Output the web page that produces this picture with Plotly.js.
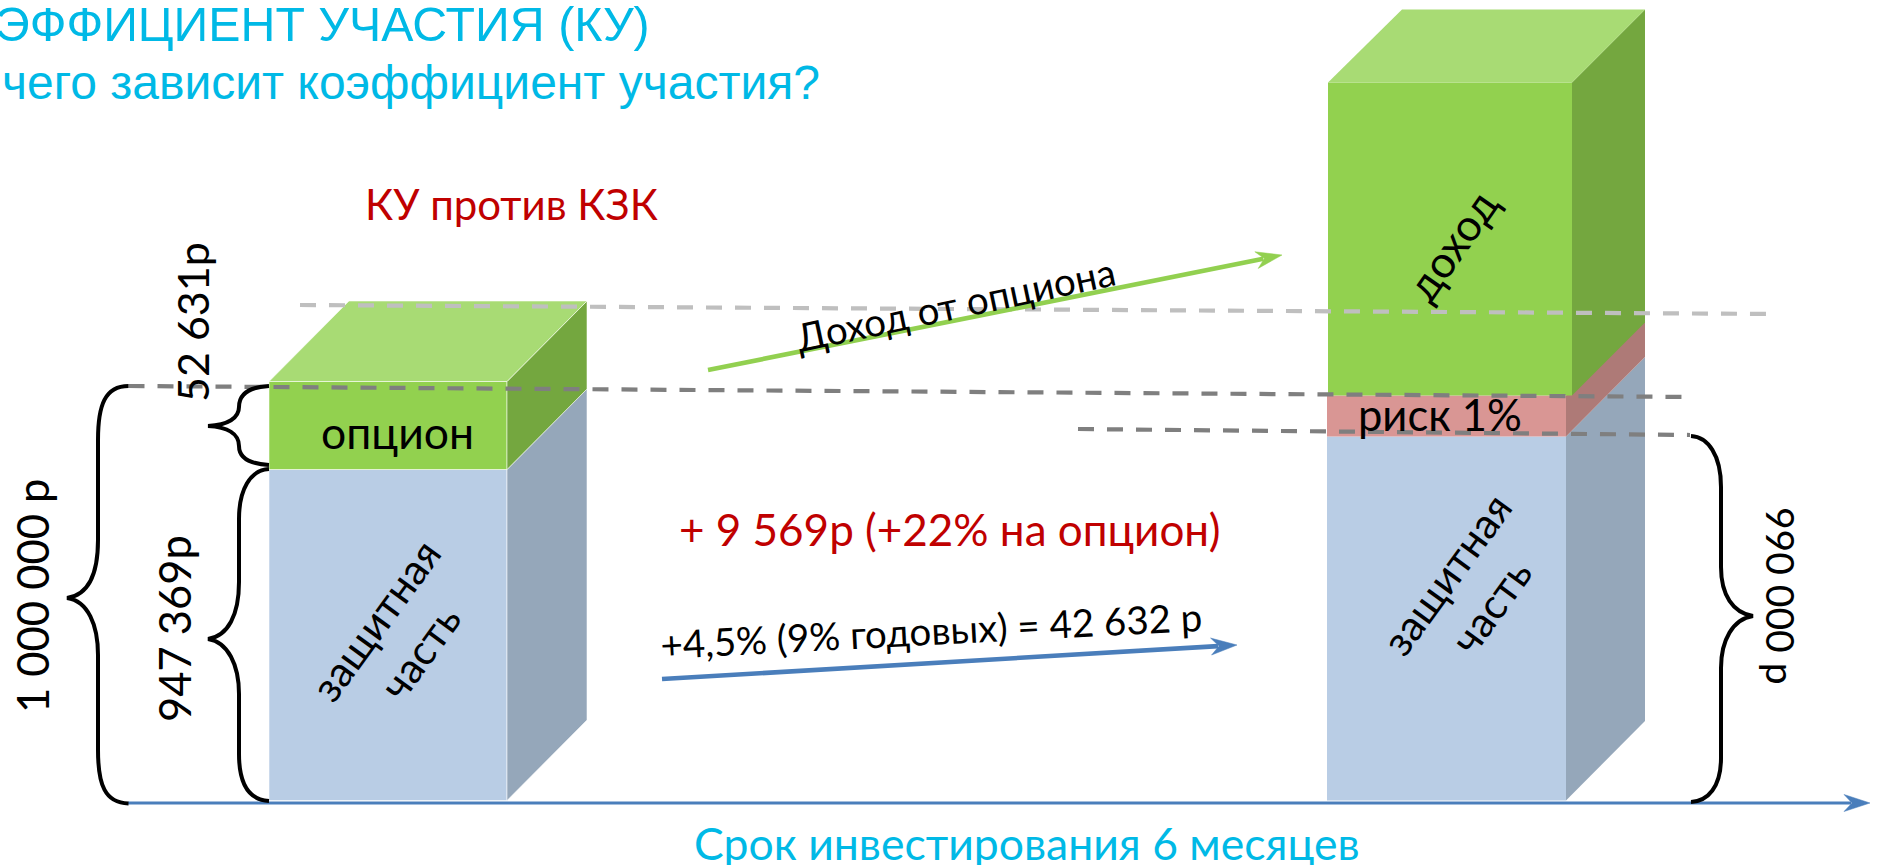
<!DOCTYPE html>
<html><head><meta charset="utf-8">
<script src="https://cdn.plot.ly/plotly-3.0.1.min.js"></script>
<style>html,body{margin:0;padding:0;background:#fff;overflow:hidden}</style></head>
<body><div id="chart" style="width:1879px;height:865px"></div>
<script>
// ---- values ----
const boxNames = ["КЗК", "КУ"];
const protectionHeights = [331, 364];
const optionHeights = [88, 313];
const riskHeights = [0, 41];
const titleLines = ["ЭФФИЦИЕНТ УЧАСТИЯ (КУ)", "чего зависит коэффициент участия?"];
const amountLabels = ["1 000 000 р", "947 369р", "52 631р", "990 000 р"];
const segmentLabels = ["опцион", "защитная<br>часть", "доход", "риск 1%"];
const flowLabels = ["Доход от опциона", "+4,5% (9% годовых) = 42 632 р", "+ 9 569р (+22% на опцион)"];
const headingLabel = "КУ против КЗК";
const axisLabel = "Срок инвестирования 6 месяцев";

// ---- layout & styling ----
const W = 1879, H = 865, BASE = 800.5;
const BODY = 'Lato, "Open Sans", sans-serif', HEAD = '"Liberation Sans", Arial, sans-serif';
const CY = '#00b9e6', RED = '#c00000', BLUEL = '#4a7ebb';
const frames = [
  {blue:[269,507,587], top:[269,507,587,349], dy:80.5, edge:'rgba(255,255,255,.55)'},
  {blue:[1327,1566,1645], top:[1328,1572,1645,1402], dy:79.5, edge:'rgba(255,255,255,0)'}
];
const traces = [];
function poly(xs, ys, color, edge){
  traces.push({type:'scatter', mode:'lines', x:[...xs,xs[0]], y:[...ys,ys[0]], fill:'toself',
    fillcolor:color, line:{color:edge, width:1}, hoverinfo:'skip', showlegend:false});
}
function block(l, r, back, yb, yt, dy, front, side, edge){
  poly([l,r,r,l],[yb,yb,yt,yt],front,edge);
  poly([r,back,back,r],[yb,yb-dy,yt-dy,yt],side,edge);
}
boxNames.forEach((n,i)=>{
  const f = frames[i];
  let y = BASE - protectionHeights[i];
  block(f.blue[0],f.blue[1],f.blue[2],BASE,y,f.dy,'#b9cde5','#95a7ba',f.edge);
  if(riskHeights[i]>0){
    const y2 = y - riskHeights[i];
    block(f.blue[0],f.blue[1],f.blue[2],y,y2,f.dy,'#d99694','#ae7a77',f.edge);
    y = y2;
  }
  const yt = y - optionHeights[i];
  const d = f.top[2]-f.top[1]+(i?0:0.5);
  block(f.top[0],f.top[1],f.top[2],y,yt,d,'#92d14f','#74a73f',f.edge);
  poly([f.top[0],f.top[1],f.top[2],f.top[3]],[yt,yt,yt-d,yt-d],'#a8db74',f.edge);
});

const brace = d => ({type:'path', path:d, xref:'x', yref:'y', layer:'above', line:{color:'#000',width:4}});
const dash = (x0,y0,x1,y1,c) => ({type:'line', xref:'x', yref:'y', x0,y0,x1,y1, layer:'above', line:{color:c,width:4.2,dash:'16px,13px'}});
function arrowShapes(x0,y0,x1,y1,color,w){
  const L = Math.hypot(x1-x0,y1-y0), ux=(x1-x0)/L, uy=(y1-y0)/L, nx=-uy, ny=ux;
  const pt = (a,b)=>`${x1-a*ux+b*nx},${y1-a*uy+b*ny}`;
  return [
    {type:'line', xref:'x', yref:'y', layer:'above', x0, y0, x1:x1-19*ux, y1:y1-19*uy, line:{color,width:w}},
    {type:'path', xref:'x', yref:'y', layer:'above', fillcolor:color, line:{color,width:0.5},
     path:`M${pt(0,0)} L${pt(26,8.5)} L${pt(18,0)} L${pt(26,-8.5)} Z`}
  ];
}
const shapes = [
  dash(300,305,1775,314,'#bfbfbf'),
  dash(128.5,386,1693,397,'#7f7f7f'),
  dash(1078,429,1690,435,'#7f7f7f'),
  ...arrowShapes(128,803,1870,803,BLUEL,3),
  ...arrowShapes(708,370,1282,255,'#92d050',4.6),
  ...arrowShapes(662,679,1237,645,BLUEL,4.6),
  brace('M128.5,386 C105,386 98,405 98,440 L98,540 C98,575 88,595 67,598 C88,601 98,625 98,655 L98,750 C98,785 105,803 128.5,803.5'),
  brace('M269,386 C250,387 239,393 239,407 C239,418 228,425 208,426 C228,427 239,434 239,446 C239,458 250,464 269,465'),
  brace('M269,469 C250,470 239,490 239,519 L239,582 C239,615 228,636 208,639 C228,642 239,665 239,694 L239,754 C239,785 250,800 269,801'),
  brace('M1691,436 C1708,437 1721,455 1721,487 L1721,567 C1721,595 1733,613 1753,616 C1733,619 1721,640 1721,668 L1721,758 C1721,787 1708,801 1691,802')
];

const txt = (text,x,y,size,color,angle,fam,anchor) => ({text, x, y, xref:'x', yref:'y', showarrow:false,
  font:{size, color, family:fam||BODY}, textangle:angle||0, xanchor:anchor||'center', yanchor:'middle', align:'center'});
const annotations = [
  Object.assign(txt(titleLines[0],0,24,48.3,CY,0,HEAD,'left'),{xshift:-7}),
  Object.assign(txt(titleLines[1],0,82,48,CY,0,HEAD,'left'),{xshift:0}),
  txt(headingLabel,511,204,42,RED),
  txt(flowLabels[2],950,529,44,RED),
  txt(flowLabels[0],955,304,38.5,'#000',-12),
  txt(flowLabels[1],931,630,38.5,'#000',-3),
  txt(axisLabel,1027,842,44.5,CY),
  txt(amountLabels[0],32,596,43.5,'#000',-90),
  txt(amountLabels[1],174,629,43.5,'#000',-90),
  txt(amountLabels[2],192,322,43,'#000',-90),
  txt(amountLabels[3],1781,596,39,'#000',90),
  txt(segmentLabels[0],397,431,44.5,'#000'),
  txt(segmentLabels[1],397,636,42,'#000',-54),
  txt(segmentLabels[1],1468,590,42,'#000',-54),
  txt(segmentLabels[2],1451,245,44,'#000',-55),
  txt(segmentLabels[3],1440,414,43.5,'#000')
];
const hidden = {visible:false, fixedrange:true};
Plotly.newPlot('chart', traces, {
  width:W, height:H, margin:{l:0,r:0,t:0,b:0}, paper_bgcolor:'#fff', plot_bgcolor:'#fff', showlegend:false,
  xaxis:Object.assign({range:[0,W]},hidden), yaxis:Object.assign({range:[H,0]},hidden),
  shapes, annotations
}, {displayModeBar:false, staticPlot:true});
</script></body></html>
